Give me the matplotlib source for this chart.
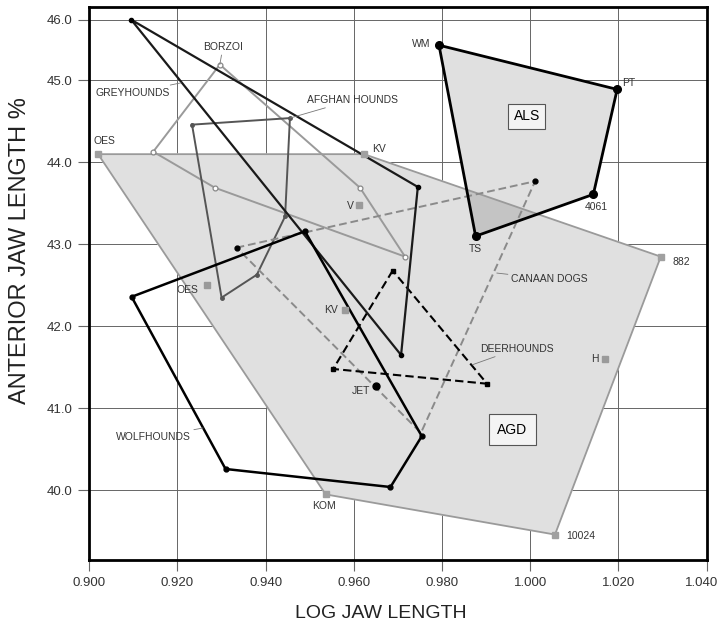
import numpy as np
import matplotlib
matplotlib.use("Agg")
import matplotlib.pyplot as plt
from matplotlib.transforms import ScaledTranslation

plt.rcParams.update({
    "font.family": ["Liberation Sans", "DejaVu Sans"],
    "font.size": 10,
})

# log jaw length (x) vs anterior jaw length % (y)
AGD_X = [0.9020, 0.9623, 1.0296, 1.0056, 0.9536]
AGD_Y = [44.10, 44.10, 42.85, 39.46, 39.95]
AGD_NAMES = ["OES", "KV", "882", "10024", "KOM"]

AGD_IN_X = [0.9268, 0.9580, 0.9612, 1.0169]
AGD_IN_Y = [42.50, 42.20, 43.48, 41.60]
AGD_IN_NAMES = ["OES", "KV", "V", "H"]

JET_X = [0.9650]
JET_Y = [41.27]

ALS_X = [0.9793, 1.0197, 1.0143, 0.9876]
ALS_Y = [45.58, 44.89, 43.61, 43.10]
ALS_NAMES = ["WM", "PT", "4061", "TS"]

WOLF_X = [0.9096, 0.9489, 0.9754, 0.9683, 0.9309]
WOLF_Y = [42.36, 43.16, 40.66, 40.04, 40.26]

GREY_X = [0.9095, 0.9745, 0.9707]
GREY_Y = [46.00, 43.70, 41.65]

BORZ_X = [0.9296, 0.9614, 0.9716, 0.9285, 0.9145]
BORZ_Y = [45.26, 43.69, 42.85, 43.69, 44.13]

AFGH_X = [0.9233, 0.9455, 0.9444, 0.9380, 0.9300]
AFGH_Y = [44.46, 44.54, 43.34, 42.63, 42.35]

CANA_X = [0.9334, 1.0011, 0.9752]
CANA_Y = [42.96, 43.77, 40.70]

DEER_X = [0.9688, 0.9553, 0.9902]
DEER_Y = [42.68, 41.48, 41.30]

X_TICKS = [0.90, 0.92, 0.94, 0.96, 0.98, 1.00, 1.02, 1.04]
Y_TICKS = [40, 41, 42, 43, 44, 45, 46]

# the axis is squeezed above 45 %
K_TOP = 0.74


def _fwd(v):
    v = np.asarray(v, dtype=float)
    return np.where(v > 45, 45 + (v - 45) * K_TOP, v)


def _inv(v):
    v = np.asarray(v, dtype=float)
    return np.where(v > 45, 45 + (v - 45) / K_TOP, v)


def closed(vals):
    return list(vals) + [vals[0]]


fig = plt.figure(figsize=(7.2, 6.28), dpi=100)
ax = fig.add_axes([0.124, 0.1083, 0.8575, 0.8806])
ax.set_yscale("function", functions=(_fwd, _inv))
ax.set_xlim(0.9, 1.04)
ax.set_ylim(39.15, 46.21)
ax.set_xticks(X_TICKS)
ax.set_xticklabels([f"{v:.3f}" for v in X_TICKS])
ax.set_yticks(Y_TICKS)
ax.set_yticklabels([f"{v:.1f}" for v in Y_TICKS])
ax.grid(True, color="#666666", lw=0.7)
ax.set_axisbelow(True)
ax.tick_params(direction="out", length=8, width=0.8, color="#666666",
               labelsize=9.5, labelcolor="#333333", pad=4)
for sp in ax.spines.values():
    sp.set_linewidth(2)
    sp.set_color("black")
# keep the last x label inside the figure
last = ax.get_xticklabels()[-1]
last.set_transform(last.get_transform() + ScaledTranslation(-4 / 72, 0, fig.dpi_scale_trans))

# shaded ranges (white underlay hides the grid, grey overlaps darken)
for xs, ys in [(AGD_X, AGD_Y), (ALS_X, ALS_Y)]:
    ax.fill(xs, ys, color="white", zorder=1)
for xs, ys in [(AGD_X, AGD_Y), (ALS_X, ALS_Y)]:
    ax.fill(xs, ys, facecolor="black", alpha=0.12, edgecolor="none", zorder=1.1)
ax.plot(closed(AGD_X), closed(AGD_Y), color="#9a9a9a", lw=1.3, zorder=2)
ax.plot(closed(ALS_X), closed(ALS_Y), color="black", lw=2.0, zorder=3)

# group outlines
ax.plot(closed(BORZ_X), closed(BORZ_Y), color="#9a9a9a", lw=1.4, zorder=2.2)
ax.plot(closed(AFGH_X), closed(AFGH_Y), color="#555555", lw=1.4, zorder=2.3)
ax.plot(closed(CANA_X), closed(CANA_Y), color="#8a8a8a", lw=1.4,
        dashes=(4, 2), zorder=2.4)
ax.plot(closed(DEER_X), closed(DEER_Y), color="black", lw=1.5,
        dashes=(4, 2), zorder=2.5)
ax.plot(closed(GREY_X), closed(GREY_Y), color="#1a1a1a", lw=1.6, zorder=2.6)
ax.plot(closed(WOLF_X), closed(WOLF_Y), color="black", lw=1.8, zorder=2.7)

# vertex markers
ax.plot(AGD_X, AGD_Y, ls="none", marker="s", ms=4.5, color="#a0a0a0", zorder=4)
ax.plot(AGD_IN_X, AGD_IN_Y, ls="none", marker="s", ms=4, color="#9a9a9a", zorder=4)
ax.plot(ALS_X, ALS_Y, ls="none", marker="o", ms=5.5, color="black", zorder=4)
ax.plot(JET_X, JET_Y, ls="none", marker="o", ms=5, color="black", zorder=4)
ax.plot(WOLF_X, WOLF_Y, ls="none", marker="o", ms=3.5, color="black", zorder=4)
ax.plot(GREY_X, GREY_Y, ls="none", marker="o", ms=3, color="black", zorder=4)
ax.plot(BORZ_X, BORZ_Y, ls="none", marker="o", ms=3.5, mfc="white",
        mec="#888888", mew=0.9, zorder=4)
ax.plot(AFGH_X, AFGH_Y, ls="none", marker="o", ms=2.5, color="#555555", zorder=4)
ax.plot(CANA_X[:2], CANA_Y[:2], ls="none", marker="o", ms=3.5, color="black", zorder=4)
ax.plot(DEER_X, DEER_Y, ls="none", marker="s", ms=2.5, color="black", zorder=4)

LBL = dict(fontsize=7.5, color="#333333", va="center", zorder=5)

# point labels: offsets in points
agd_offs = [(4.3, 9.4, "center"), (5.8, 3.6, "left"), (8.6, -3.6, "left"),
            (8, -0.7, "left"), (-1, -8, "center")]
for x, y, name, (dx, dy, ha) in zip(AGD_X, AGD_Y, AGD_NAMES, agd_offs):
    ax.annotate(name, (x, y), xytext=(dx, dy), textcoords="offset points", ha=ha, **LBL)

in_offs = [(-6.3, -3.4), (-5, 0), (-4, -0.7), (-4.3, 0)]
for x, y, name, (dx, dy) in zip(AGD_IN_X, AGD_IN_Y, AGD_IN_NAMES, in_offs):
    ax.annotate(name, (x, y), xytext=(dx, dy), textcoords="offset points", ha="right", **LBL)
ax.annotate("JET", (JET_X[0], JET_Y[0]), xytext=(-4.3, -3.6),
            textcoords="offset points", ha="right", **LBL)

als_offs = [(-6.5, 0.7, "right"), (3.9, 4.3, "left"), (2.4, -9.4, "center"),
            (0, -9, "center")]
for x, y, name, (dx, dy, ha) in zip(ALS_X, ALS_Y, ALS_NAMES, als_offs):
    ax.annotate(name, (x, y), xytext=(dx, dy), textcoords="offset points", ha=ha, **LBL)

# group names with short leaders
LEAD = dict(arrowstyle="-", color="#777777", lw=0.6, shrinkA=0, shrinkB=0)
groups = [
    ("BORZOI", (BORZ_X[0], BORZ_Y[0]), (2.2, 12.5), "center"),
    ("GREYHOUNDS", (0.9208, 44.97), (-8, -7.2), "right"),
    ("AFGHAN HOUNDS", (AFGH_X[1], AFGH_Y[1]), (12, 13), "left"),
    ("CANAAN DOGS", (0.9924, 42.65), (10, -4.3), "left"),
    ("DEERHOUNDS", (0.9868, 41.53), (5.8, 11.5), "left"),
    ("WOLFHOUNDS", (0.9258, 40.76), (-8.6, -6.5), "right"),
]
for name, xy, off, ha in groups:
    ax.annotate(name, xy, xytext=off, textcoords="offset points", ha=ha,
                arrowprops=LEAD, **LBL)

ax.text(0.9992, 44.56, "ALS", ha="center", va="center", fontsize=10, zorder=5,
        bbox=dict(boxstyle="square,pad=0.4", fc="#f4f4f4", ec="#555555", lw=0.8))
ax.text(0.9959, 40.74, "AGD", ha="center", va="center", fontsize=10, zorder=5,
        bbox=dict(boxstyle="square,pad=0.6", fc="#f4f4f4", ec="#555555", lw=0.8))

ax.set_xlabel("LOG JAW LENGTH", fontsize=14, color="#222222")
ax.set_ylabel("ANTERIOR JAW LENGTH %", fontsize=17, color="#222222")
ax.xaxis.set_label_coords(0.473, -0.081)
ax.yaxis.set_label_coords(-0.094, 0.56)

fig.savefig("out.png", dpi=100, facecolor="white")
